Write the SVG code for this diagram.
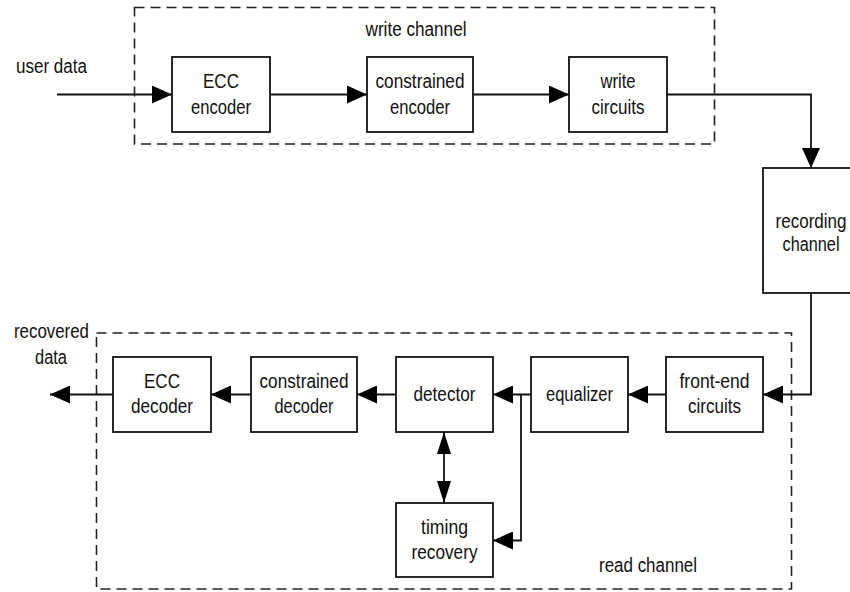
<svg xmlns="http://www.w3.org/2000/svg" width="850" height="592" viewBox="0 0 850 592">
  <style>
    text { font-family: "Liberation Sans Narrow", "Arial Narrow", "Liberation Sans", Arial, sans-serif; font-size: 20px; fill: #111; text-anchor: middle; }
    .box { fill: #fff; stroke: #111; stroke-width: 1.8; }
    .frame { fill: none; stroke: #222; stroke-width: 1.6; stroke-dasharray: 10 6; }
    .wire { fill: none; stroke: #111; stroke-width: 1.8; }
  </style>
  <defs>
    <marker id="arrow" viewBox="0 0 20 18" refX="20" refY="9" markerWidth="20" markerHeight="18" markerUnits="userSpaceOnUse" orient="auto">
      <path d="M0,0 L20,9 L0,18 Z" fill="#000"/>
    </marker>
    <marker id="arrowThin" viewBox="0 0 22 14" refX="22" refY="7" markerWidth="22" markerHeight="14" markerUnits="userSpaceOnUse" orient="auto-start-reverse">
      <path d="M0,0 L22,7 L0,14 Z" fill="#000"/>
    </marker>
  </defs>

  <!-- channel frames -->
  <g id="write-channel">
    <rect class="frame" x="134.5" y="7.5" width="580" height="136.5"/>
    <text x="416" y="36" textLength="101" lengthAdjust="spacingAndGlyphs">write channel</text>
  </g>
  <g id="read-channel">
    <rect class="frame" x="96.5" y="333" width="695" height="256"/>
    <text x="648" y="572" textLength="98" lengthAdjust="spacingAndGlyphs">read channel</text>
  </g>

  <!-- free labels -->
  <g id="user-data"><text x="51.5" y="73" textLength="71" lengthAdjust="spacingAndGlyphs">user data</text></g>
  <g id="recovered-data">
    <text x="51.5" y="338" textLength="75" lengthAdjust="spacingAndGlyphs">recovered</text>
    <text x="51" y="364" textLength="32" lengthAdjust="spacingAndGlyphs">data</text>
  </g>

  <!-- connectors -->
  <g id="connectors">
    <path class="wire" d="M57,94.5 H172" marker-end="url(#arrow)"/>
    <path class="wire" d="M270,94.5 H367" marker-end="url(#arrow)"/>
    <path class="wire" d="M473,94.5 H569" marker-end="url(#arrow)"/>
    <path class="wire" d="M667,94.5 H811 V168" marker-end="url(#arrow)"/>
    <path class="wire" d="M811,293 V394.5 H763" marker-end="url(#arrow)"/>
    <path class="wire" d="M666,394.5 H628" marker-end="url(#arrow)"/>
    <path class="wire" d="M531,394.5 H493" marker-end="url(#arrow)"/>
    <path class="wire" d="M521,394.5 V540.5 H493" marker-end="url(#arrow)"/>
    <path class="wire" d="M444,432 V503" marker-start="url(#arrowThin)" marker-end="url(#arrowThin)"/>
    <path class="wire" d="M396,394.5 H357" marker-end="url(#arrow)"/>
    <path class="wire" d="M251,394.5 H211" marker-end="url(#arrow)"/>
    <path class="wire" d="M113,394.5 H50" marker-end="url(#arrow)"/>
  </g>

  <!-- write path blocks -->
  <g id="ecc-encoder">
    <rect class="box" x="172" y="57" width="98" height="75"/>
    <text x="221" y="88" textLength="36" lengthAdjust="spacingAndGlyphs">ECC</text>
    <text x="221" y="114" textLength="60" lengthAdjust="spacingAndGlyphs">encoder</text>
  </g>
  <g id="constrained-encoder">
    <rect class="box" x="367" y="57" width="106" height="75"/>
    <text x="420" y="88" textLength="89" lengthAdjust="spacingAndGlyphs">constrained</text>
    <text x="420" y="114" textLength="60" lengthAdjust="spacingAndGlyphs">encoder</text>
  </g>
  <g id="write-circuits">
    <rect class="box" x="569" y="57" width="98" height="75"/>
    <text x="618" y="88" textLength="35" lengthAdjust="spacingAndGlyphs">write</text>
    <text x="618" y="114" textLength="53" lengthAdjust="spacingAndGlyphs">circuits</text>
  </g>

  <!-- medium -->
  <g id="recording-channel">
    <rect class="box" x="763" y="168" width="96" height="125"/>
    <text x="811" y="228" textLength="71" lengthAdjust="spacingAndGlyphs">recording</text>
    <text x="811" y="251" textLength="57" lengthAdjust="spacingAndGlyphs">channel</text>
  </g>

  <!-- read path blocks -->
  <g id="front-end-circuits">
    <rect class="box" x="666" y="357" width="97" height="75"/>
    <text x="714.5" y="387.5" textLength="70" lengthAdjust="spacingAndGlyphs">front-end</text>
    <text x="714.5" y="413" textLength="53" lengthAdjust="spacingAndGlyphs">circuits</text>
  </g>
  <g id="equalizer">
    <rect class="box" x="531" y="357" width="97" height="75"/>
    <text x="579.5" y="400.5" textLength="67" lengthAdjust="spacingAndGlyphs">equalizer</text>
  </g>
  <g id="detector">
    <rect class="box" x="396" y="357" width="97" height="75"/>
    <text x="444.5" y="400.5" textLength="62" lengthAdjust="spacingAndGlyphs">detector</text>
  </g>
  <g id="timing-recovery">
    <rect class="box" x="396" y="503" width="97" height="74"/>
    <text x="444.5" y="533.5" textLength="47" lengthAdjust="spacingAndGlyphs">timing</text>
    <text x="444.5" y="558.5" textLength="66" lengthAdjust="spacingAndGlyphs">recovery</text>
  </g>
  <g id="constrained-decoder">
    <rect class="box" x="251" y="357" width="106" height="75"/>
    <text x="304" y="387.5" textLength="89" lengthAdjust="spacingAndGlyphs">constrained</text>
    <text x="304" y="413" textLength="59" lengthAdjust="spacingAndGlyphs">decoder</text>
  </g>
  <g id="ecc-decoder">
    <rect class="box" x="113" y="357" width="98" height="75"/>
    <text x="162" y="387.5" textLength="36" lengthAdjust="spacingAndGlyphs">ECC</text>
    <text x="162" y="413" textLength="62" lengthAdjust="spacingAndGlyphs">decoder</text>
  </g>
</svg>
